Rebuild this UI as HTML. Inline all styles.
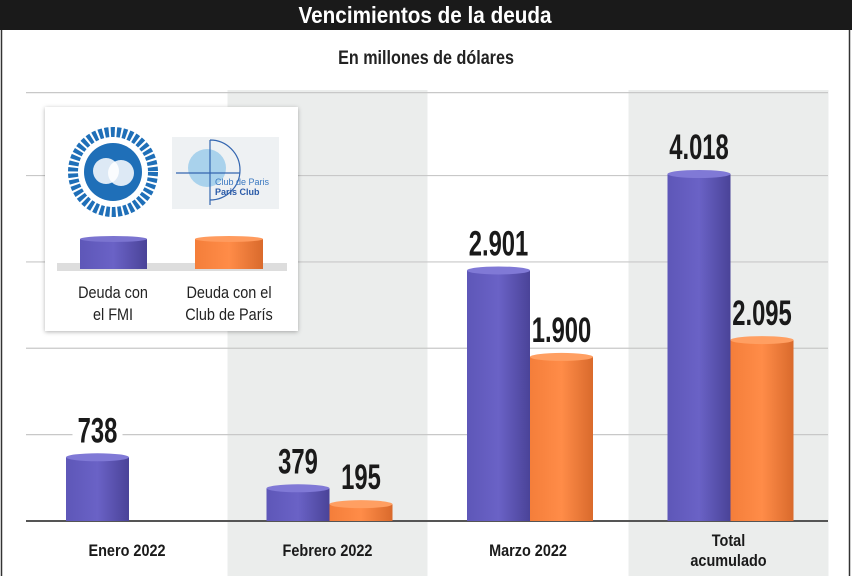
<!DOCTYPE html>
<html><head><meta charset="utf-8"><style>
body{margin:0;width:852px;height:576px;background:#fff;overflow:hidden;font-family:"Liberation Sans",sans-serif;}
</style></head><body>
<svg width="852" height="576" viewBox="0 0 852 576" xmlns="http://www.w3.org/2000/svg">
<defs>
<linearGradient id="gp" x1="0" x2="1"><stop offset="0" stop-color="#5e57b8"/><stop offset="0.5" stop-color="#6a62c6"/><stop offset="1" stop-color="#4a4398"/></linearGradient>
<linearGradient id="go" x1="0" x2="1"><stop offset="0" stop-color="#f47e3a"/><stop offset="0.5" stop-color="#ff8c48"/><stop offset="1" stop-color="#d96a2c"/></linearGradient>
<filter id="sh" x="-10%" y="-10%" width="120%" height="120%"><feDropShadow dx="0" dy="1" stdDeviation="2" flood-color="#000" flood-opacity="0.3"/></filter>
</defs>
<rect x="0" y="0" width="852" height="30" fill="#1a1a1a"/>
<text transform="translate(425,23) scale(0.9,1)" text-anchor="middle" fill="#fff" font-size="23" font-weight="bold">Vencimientos de la deuda</text>
<line x1="1.5" y1="30" x2="1.5" y2="576" stroke="#333" stroke-width="1.5"/>
<line x1="849.5" y1="30" x2="849.5" y2="576" stroke="#333" stroke-width="1.5"/>
<text transform="translate(426,64) scale(0.85,1)" text-anchor="middle" fill="#222" font-size="19" font-weight="bold">En millones de dólares</text>
<g id="bg"></g><g id="grid"></g><g id="lblbg"></g><g id="bars"></g><g id="labels"></g>
<g filter="url(#sh)"><rect x="45" y="107" width="253" height="224" fill="#fff"/></g>
<g>
<circle cx="113" cy="172" r="40" fill="none" stroke="#1f6fb8" stroke-width="10" stroke-dasharray="4 2"/>
<circle cx="113" cy="172" r="29" fill="#1f6fb8"/>
<circle cx="106" cy="171" r="13" fill="#fff" opacity="0.85"/><circle cx="121" cy="173" r="13" fill="#fff" opacity="0.85"/>
</g>
<g>
<rect x="172" y="137" width="107" height="72" fill="#eef1f3"/>
<circle cx="207" cy="168" r="19" fill="#a9d2ec"/>
<path d="M210 140 A30 30 0 0 1 210 200 M176 173 L240 173 M210 140 L210 205" stroke="#3466b0" fill="none" stroke-width="1.2"/>
<text x="215" y="185" fill="#3a78c0" font-size="9">Club de Paris</text>
<text x="215" y="195" fill="#2a5aa8" font-size="9" font-weight="bold">Paris Club</text>
</g>
<rect x="57" y="263" width="230" height="8" fill="#ddd"/>
<rect x="80" y="239" width="67" height="30" fill="url(#gp)"/><ellipse cx="113.5" cy="239" rx="33.5" ry="3" fill="#7b74d0"/>
<rect x="195" y="239" width="68" height="30" fill="url(#go)"/><ellipse cx="229" cy="239" rx="34" ry="3" fill="#ff9b5e"/>
<text transform="translate(113,298) scale(0.85,1)" text-anchor="middle" font-size="17" fill="#222"><tspan x="0">Deuda con</tspan><tspan x="0" dy="22">el FMI</tspan></text>
<text transform="translate(229,298) scale(0.85,1)" text-anchor="middle" font-size="17" fill="#222"><tspan x="0">Deuda con el</tspan><tspan x="0" dy="22">Club de París</tspan></text>
</svg>
<script>
const categories=["Enero 2022","Febrero 2022","Marzo 2022","Total acumulado"];
const fmiValues=[738,379,2901,4018];
const parisValues=[null,195,1900,2095];
const fmiLabels=["738","379","2.901","4.018"];
const parisLabels=["","195","1.900","2.095"];
const gridValues=[1000,2000,3000,4000,4960];
const NS="http://www.w3.org/2000/svg";
const base=521, k=347/4018;
const y=v=>base-v*k;
const cx=i=>127+i*200.5;
function mk(tag,attrs,parent){const e=document.createElementNS(NS,tag);for(const a in attrs)e.setAttribute(a,attrs[a]);parent.appendChild(e);return e;}
const bg=document.getElementById('bg'),grid=document.getElementById('grid'),lblbg=document.getElementById('lblbg'),bars=document.getElementById('bars'),labels=document.getElementById('labels');
categories.forEach((c,i)=>{if(i%2===1){const r=mk('rect',{x:cx(i)-100,y:90,width:200,height:486,fill:'#ebedec'},bg);

}});
gridValues.forEach(v=>{const l=mk('line',{x1:26,x2:828,y1:y(v),y2:y(v),stroke:'#c8c8c8','stroke-width':1.2},grid);

});
const bl=mk('line',{x1:26,x2:828,y1:base,y2:base,stroke:'#555','stroke-width':2},grid);


function bar(x,v,fill,top,name,label,bgc){
 const g=mk('g',{},bars);
 
 
 mk('rect',{x:x,y:y(v),width:63,height:base-y(v),fill:fill},g);
 mk('ellipse',{cx:x+31.5,cy:y(v),rx:31.5,ry:4,fill:top},g);
 const ty=y(v)-15;
 const tw=label.length*14+8;
 mk('rect',{x:x+31.5-tw/2,y:ty-28,width:tw,height:30,fill:bgc},lblbg);
 const t=mk('text',{transform:'translate('+(x+31.5)+','+ty+') scale(0.68,1)','text-anchor':'middle','font-size':35,'font-weight':'bold',fill:'#1a1a1a'},labels);
 
 
 t.textContent=label;
}
categories.forEach((c,i)=>{
 const bgc=i%2?'#ebedec':'#fff';
 bar(cx(i)-61,fmiValues[i],'url(#gp)','#8079d6','bar-fmi-'+i,fmiLabels[i],bgc);
 if(parisValues[i]!=null) bar(cx(i)+2,parisValues[i],'url(#go)','#ff9f62','bar-paris-'+i,parisLabels[i],bgc);
 const words=c==="Total acumulado"?["Total","acumulado"]:[c];
 const t=mk('text',{transform:'translate('+cx(i)+','+(words.length>1?546:556)+') scale(0.85,1)','text-anchor':'middle','font-size':17,'font-weight':'bold',fill:'#1a1a1a'},labels);
 
 
 words.forEach((w,j)=>{const s=mk('tspan',{x:0,y:j*20},t);s.textContent=w;});
});
</script>
</body></html>
